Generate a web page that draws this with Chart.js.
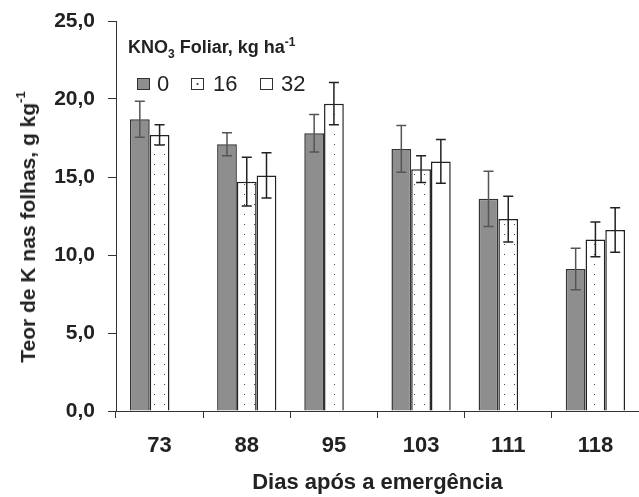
<!DOCTYPE html>
<html>
<head>
<meta charset="utf-8">
<script src="https://cdn.jsdelivr.net/npm/chart.js@4/dist/chart.umd.min.js"></script>
<style>
  body{margin:0;background:#fff;font-family:"Liberation Sans",Arial,sans-serif;}
  #wrap{position:relative;width:639px;height:497px;}
  #ytitle{position:absolute;left:25px;top:227px;transform:translate(-50%,-50%) rotate(-90deg);white-space:nowrap;font-weight:bold;font-size:21px;line-height:21px;color:#222;}
  #ytitle sup{font-size:13px;position:relative;top:-2px;}
  #legTitle{position:absolute;left:128px;top:33px;font-weight:bold;font-size:18px;line-height:18px;color:#222;white-space:nowrap;}
  #legTitle sub{font-size:12px;}
  #legTitle sup{font-size:12px;}
  .lt{position:absolute;top:73px;font-size:22px;line-height:22px;color:#222;white-space:nowrap;}
  .lb{position:absolute;top:78px;width:13px;height:12px;border:1px solid #333;box-sizing:border-box;}
</style>
</head>
<body>
<div id="wrap">
  <canvas id="c" width="639" height="497"></canvas>
  <div id="ytitle">Teor de K nas folhas, g kg<sup>-1</sup></div>
  <div id="legTitle">KNO<sub>3</sub> Foliar, kg ha<sup>-1</sup></div>
  <div id="legend"></div>
</div>
<script>
const dias = ['73','88','95','103','111','118'];
const doses = ['0','16','32'];
const k0  = [18.7, 17.1, 17.8, 16.8, 13.6, 9.1];
const k16 = [17.7, 14.7, 19.7, 15.5, 12.3, 11.0];
const k32 = [null, 15.1, null, 16.0, null, 11.6];
const e0  = [1.15, 0.73, 1.2, 1.5, 1.77, 1.33];
const e16 = [0.65, 1.56, 1.35, 0.86, 1.46, 1.11];
const e32 = [null, 1.45, null, 1.4, null, 1.43];
const yTicks = [0, 5, 10, 15, 20, 25];

// pontilhado
const pc = document.createElement('canvas');
pc.width = 10; pc.height = 10;
const px = pc.getContext('2d');
px.fillStyle = '#fff'; px.fillRect(0,0,10,10);
px.fillStyle = '#444'; px.fillRect(4,4,1,1);
const dotted = document.getElementById('c').getContext('2d').createPattern(pc,'repeat');

// legenda html
const legFill = ['#8e8e8e', null, '#fff'];
const boxX = [137, 191, 260];
const txtX = [157, 213, 281];
const leg = document.getElementById('legend');
doses.forEach((d,i)=>{
  const b = document.createElement('div');
  b.className = 'lb';
  b.style.left = boxX[i]+'px';
  if(legFill[i]) b.style.background = legFill[i];
  else b.style.background = 'radial-gradient(circle at 50% 50%, #444 0.8px, #fff 1.3px)';
  leg.appendChild(b);
  const t = document.createElement('div');
  t.className = 'lt';
  t.style.left = txtX[i]+'px';
  t.textContent = d;
  leg.appendChild(t);
});

const errBars = {
  id:'errBars',
  afterDatasetsDraw(chart){
    const ctx = chart.ctx, y = chart.scales.y;
    chart.data.datasets.forEach((ds,i)=>{
      const meta = chart.getDatasetMeta(i);
      meta.data.forEach((bar,j)=>{
        const v = ds.data[j], e = ds.err[j];
        if(v==null || e==null) return;
        const t = y.getPixelForValue(v+e), b = y.getPixelForValue(v-e);
        ctx.save();
        ctx.strokeStyle = ds.errColor; ctx.lineWidth = 1.5;
        ctx.beginPath();
        ctx.moveTo(bar.x, t); ctx.lineTo(bar.x, b);
        ctx.moveTo(bar.x-5, t); ctx.lineTo(bar.x+5, t);
        ctx.moveTo(bar.x-5, b); ctx.lineTo(bar.x+5, b);
        ctx.stroke();
        ctx.restore();
      });
    });
  }
};

const fam = '"Liberation Sans", Arial, sans-serif';

new Chart(document.getElementById('c'), {
  type:'bar',
  data:{ labels:dias, datasets:[
    {label:doses[0], data:k0, err:e0, errColor:'#555', backgroundColor:'#8e8e8e', borderColor:'#333', borderWidth:1.5},
    {label:doses[1], data:k16, err:e16, errColor:'#222', backgroundColor:dotted, borderColor:'#222', borderWidth:1.5},
    {label:doses[2], data:k32, err:e32, errColor:'#222', backgroundColor:'#fff', borderColor:'#222', borderWidth:1.5},
  ]},
  options:{
    responsive:false, animation:false,
    layout:{padding:{top:21, right:0, left:0, bottom:0}},
    datasets:{bar:{barPercentage:1.0, categoryPercentage:0.68}},
    plugins:{legend:{display:false}, tooltip:{enabled:false}},
    scales:{
      x:{
        grid:{display:true, drawOnChartArea:false, tickLength:7, color:'#333', offset:true},
        border:{color:'#333', width:1},
        ticks:{color:'#222', font:{family:fam, size:22, weight:'bold'}, padding:15},
        title:{display:true, text:'Dias após a emergência', color:'#222', font:{family:fam, size:22, weight:'bold'}, padding:{top:10, bottom:1}},
        afterFit(s){ s.height = 86; s.paddingLeft = 0; s.paddingRight = 0; }
      },
      y:{
        min:0, max:25,
        afterBuildTicks(s){ s.ticks = yTicks.map(v=>({value:v})); },
        grid:{display:true, drawOnChartArea:false, tickLength:8, color:'#333'},
        border:{color:'#333', width:1},
        ticks:{color:'#222', font:{family:fam, size:21, weight:'bold'}, padding:13, callback:v=>v.toFixed(1).replace('.',',')},
        afterFit(s){ s.width = 116; s.paddingTop = 0; s.paddingBottom = 0; }
      }
    }
  },
  plugins:[errBars]
});
</script>
</body>
</html>
